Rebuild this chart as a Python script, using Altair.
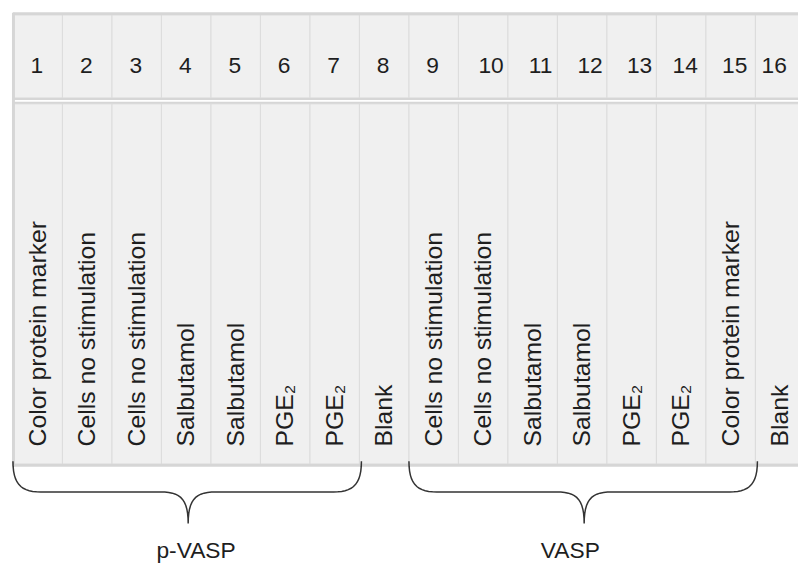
import altair as alt
import pandas as pd
import numpy as np

# ---- data ----
lanes = list(range(1, 17))
lane_labels = [
    "Color protein marker", "Cells no stimulation", "Cells no stimulation",
    "Salbutamol", "Salbutamol", "PGE₂", "PGE₂", "Blank",
    "Cells no stimulation", "Cells no stimulation", "Salbutamol", "Salbutamol",
    "PGE₂", "PGE₂", "Color protein marker", "Blank",
]
group_names = ["p-VASP", "VASP"]
group_first_lane = [1, 9]
group_last_lane = [7, 15]

# ---- layout ----
W = 793
H = 556
COL = 50.0
XMAX = W / COL
FONT = "Liberation Sans, Arial, Helvetica, sans-serif"
TXT = "#1e1e1e"
BORDER = "#d6d6d6"

lanes_df = pd.DataFrame({"lane": lanes, "label": lane_labels})
lanes_df["left"] = lanes_df["lane"] - 1
lanes_df["center"] = lanes_df["lane"] - 0.5

groups_df = pd.DataFrame({"group": group_names, "first": group_first_lane, "last": group_last_lane})
groups_df["mid"] = (groups_df["first"] - 1 + groups_df["last"]) / 2.0


def bez(p0, p1, p2, p3, n=14):
    t = np.linspace(0, 1, n)[:, None]
    p0, p1, p2, p3 = map(np.array, (p0, p1, p2, p3))
    return ((1 - t) ** 3) * p0 + 3 * ((1 - t) ** 2) * t * p1 + 3 * (1 - t) * t ** 2 * p2 + t ** 3 * p3


rows = []
for g, a, b in zip(group_names, group_first_lane, group_last_lane):
    x0 = (a - 1) * COL
    x1 = b * COL + 2
    xm = (x0 + x1) / 2 + 1
    top, mid, tip, r = 453, 484, 516, 28
    pts = np.vstack([
        bez((x0, top), (x0, 477), (x0 + 9, mid), (x0 + r, mid)),
        bez((xm - r, mid), (xm - 8, mid), (xm, 491), (xm, tip)),
        bez((xm, tip), (xm, 491), (xm + 8, mid), (xm + r, mid)),
        bez((x1 - r, mid), (x1 - 9, mid), (x1, 477), (x1, top)),
    ])
    for i, (px, py) in enumerate(pts):
        rows.append({"group": g, "i": i, "bx": px / COL, "by": py})
brace_df = pd.DataFrame(rows)

one = pd.DataFrame({"k": [0]})

xs = alt.Scale(domain=[0, XMAX], nice=False, zero=False)
ys = alt.Scale(domain=[0, H], reverse=True, nice=False, zero=False)

base = alt.Chart(lanes_df)

header_cells = base.mark_rect(fill="#f0f0f0", stroke="#dcdcdc", strokeWidth=1, clip=True).encode(
    x=alt.X("left:Q", scale=xs, axis=None), x2="lane:Q",
    y=alt.value(2), y2=alt.value(86),
)
body_cells = base.mark_rect(fill="#f0f0f0", stroke="#dcdcdc", strokeWidth=1, clip=True).encode(
    x=alt.X("left:Q", scale=xs, axis=None), x2="lane:Q",
    y=alt.value(92), y2=alt.value(456),
)

def hrule(yv, w):
    return alt.Chart(one).mark_rule(color=BORDER, strokeWidth=w).encode(
        x=alt.value(0), x2=alt.value(W), y=alt.value(yv))

top_rule = hrule(1, 3)
sep1 = hrule(87, 2)
sep2 = hrule(91, 2)
bottom_rule = hrule(457, 3)
left_rule = alt.Chart(one).mark_rule(color=BORDER, strokeWidth=3).encode(
    x=alt.value(0.5), y=alt.value(0), y2=alt.value(458))


def number_layer(expr, dx):
    return base.transform_filter(expr).mark_text(
        align="center", baseline="alphabetic", fontSize=23, font=FONT, color=TXT, dx=dx
    ).encode(x=alt.X("center:Q", scale=xs, axis=None), y=alt.value(61), text=alt.Text("lane:N"))

numbers = [
    number_layer("datum.lane <= 9", -1),
    number_layer("datum.lane >= 10 && datum.lane <= 13", 8),
    number_layer("datum.lane >= 14 && datum.lane <= 15", 4),
    number_layer("datum.lane == 16", -6),
]

labels = base.mark_text(angle=270, align="left", baseline="middle", fontSize=25, font=FONT, color=TXT).encode(
    x=alt.X("center:Q", scale=xs, axis=None), y=alt.value(438), text="label:N")

braces = alt.Chart(brace_df).mark_line(color="#333333", strokeWidth=1.5).encode(
    x=alt.X("bx:Q", scale=xs, axis=None), y=alt.Y("by:Q", scale=ys, axis=None),
    detail="group:N", order="i:Q")


def group_layer(name, dx):
    return alt.Chart(groups_df).transform_filter(alt.datum.group == name).mark_text(
        align="center", baseline="alphabetic", fontSize=23, font=FONT, color=TXT, dx=dx
    ).encode(x=alt.X("mid:Q", scale=xs, axis=None), y=alt.value(551), text="group:N")

group_text = [group_layer("p-VASP", 10), group_layer("VASP", -12)]

chart = alt.layer(
    header_cells, body_cells, top_rule, sep1, sep2, bottom_rule, left_rule,
    *numbers, labels, braces, *group_text,
).properties(
    width=W, height=H,
    padding={"left": 5, "top": 2, "right": 0, "bottom": 0},
    autosize=alt.AutoSizeParams(type="none"),
).configure_view(stroke=None)

chart.save("out.html", embed_options={"renderer": "svg", "actions": False})
